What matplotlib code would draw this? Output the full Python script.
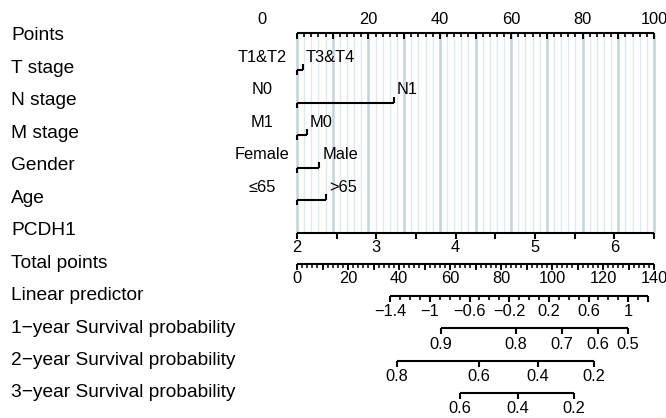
import matplotlib
matplotlib.use("Agg")
import matplotlib.pyplot as plt
import numpy as np

plt.rcParams['font.family'] = ['Liberation Sans', 'DejaVu Sans']

# row names, top to bottom
row_names = ["Points", "T stage", "N stage", "M stage", "Gender", "Age", "PCDH1",
             "Total points", "Linear predictor", "1\u2212year Survival probability",
             "2\u2212year Survival probability", "3\u2212year Survival probability"]

# categorical predictors: level names and points
cat_levels = [["T1&T2", "T3&T4"], ["N0", "N1"], ["M1", "M0"], ["Female", "Male"],
              ["\u226465", ">65"]]
cat_points = [[0, 1.6], [0, 27.2], [0, 2.7], [0, 6.3], [0, 8.2]]

# PCDH1 (continuous): 2 -> 0 points, 6.5 -> 100 points
pcdh1_min, pcdh1_max = 2.0, 6.5
pcdh1_ticks = [2, 2.5, 3, 3.5, 4, 4.5, 5, 5.5, 6, 6.5]
pcdh1_labels = [2, 3, 4, 5, 6]

# total points scale
total_max = 140
# linear predictor in total points: points = lp_zero + lp_slope * lp
lp_zero, lp_slope = 91.0, 38.9
lp_labels = [-1.4, -1.0, -0.6, -0.2, 0.2, 0.6, 1.0]
lp_range = (-1.4, 1.2)

# survival probabilities and their total-point positions
surv_values = [[0.9, 0.8, 0.7, 0.6, 0.5],
               [0.8, 0.6, 0.4, 0.2],
               [0.6, 0.4, 0.2]]
surv_total = [[56.5, 85.9, 103.9, 118.0, 129.8],
              [39.2, 71.4, 94.5, 116.5],
              [63.9, 86.7, 108.6]]

# layout (pixel units)
W, H = 666, 418
x0_px, x100_px = 297, 654
ppx = (x100_px - x0_px) / 100.0
row_y0, row_dy = 36, 32.45
row_y = [row_y0 + row_dy * i for i in range(len(row_names))]
LW = 1.5
FS_ROW = 13.8
FS_TICK = 11.8

fig = plt.figure(figsize=(W / 100, H / 100), dpi=100)
ax = fig.add_axes([0, 0, 1, 1])
ax.set_xlim(-x0_px / ppx, (W - x0_px) / ppx)
ax.set_ylim(H, 0)
ax.axis("off")


def tot(v):
    return np.asarray(v, dtype=float) * 100.0 / total_max


def fmt(v):
    s = ("%g" % v)
    return s.replace("-", "\u2212")


# grid lines
grid_top = row_y[0] - 3
grid_bot = row_y[6] + 2
ax.vlines(np.arange(0, 101, 2), grid_top, grid_bot, color="#e1e8ec", lw=1.0, zorder=0)
ax.vlines(np.arange(0, 101, 10), grid_top, grid_bot, color="#c6d4db", lw=1.8, zorder=0)

# row labels
for name, y in zip(row_names, row_y):
    ax.text(-x0_px / ppx + 11 / ppx, y, name, fontsize=FS_ROW, ha="left", va="center")

# points axis
yp = row_y[0] - 3
ax.plot([0, 100], [yp, yp], color="black", lw=LW, solid_capstyle="butt")
minor = np.arange(0, 101, 2)
ax.vlines(minor, yp, yp + 4, color="black", lw=1.2)
ax.vlines(np.arange(0, 101, 10), yp, yp + 6, color="black", lw=1.4)
for v in range(0, 101, 20):
    xl = v if v > 0 else -35 / ppx
    ax.text(xl, yp - 13, str(v), fontsize=FS_TICK, ha="center", va="center")

# categorical predictors
for i, (levels, pts) in enumerate(zip(cat_levels, cat_points)):
    y = row_y[i + 1] + 2
    ax.plot([pts[0], pts[1]], [y, y], color="black", lw=LW, solid_capstyle="butt")
    ax.vlines(pts[0], y, y + 5, color="black", lw=LW)
    ax.vlines(pts[1], y - 6, y, color="black", lw=LW)
    ax.text(-35 / ppx, y - 13, levels[0], fontsize=FS_TICK, ha="center", va="center")
    ax.text(pts[1] + 3 / ppx, y - 13, levels[1], fontsize=FS_TICK, ha="left", va="center")

# PCDH1
y = row_y[6] + 2
to_pts = lambda v: (np.asarray(v, dtype=float) - pcdh1_min) / (pcdh1_max - pcdh1_min) * 100
ax.plot([0, 100], [y, y], color="black", lw=LW, solid_capstyle="butt")
ax.vlines(to_pts(pcdh1_ticks), y, y + 6, color="black", lw=LW)
for v in pcdh1_labels:
    ax.text(to_pts(v), y + 15, str(v), fontsize=FS_TICK, ha="center", va="center")

# total points
y = row_y[7] + 1
ax.plot([0, 100], [y, y], color="black", lw=LW, solid_capstyle="butt")
ax.vlines(tot(np.arange(0, total_max + 1, 2)), y, y + 4, color="black", lw=1.1)
ax.vlines(tot(np.arange(0, total_max + 1, 10)), y, y + 6, color="black", lw=1.3)
for v in range(0, total_max + 1, 20):
    ax.text(tot(v), y + 14, str(v), fontsize=FS_TICK, ha="center", va="center")

# linear predictor
y = row_y[8]
lp_pts = lambda v: tot(lp_zero + lp_slope * np.asarray(v, dtype=float))
ax.plot(lp_pts(list(lp_range)), [y, y], color="black", lw=LW, solid_capstyle="butt")
lp_minor = np.round(np.arange(lp_range[0], lp_range[1] + 0.001, 0.1), 2)
ax.vlines(lp_pts(lp_minor), y, y + 4, color="black", lw=1.2)
ax.vlines(lp_pts(lp_labels + [lp_range[1]]), y, y + 6, color="black", lw=LW)
for v in lp_labels:
    ax.text(lp_pts(v), y + 16, fmt(v), fontsize=FS_TICK, ha="center", va="center")

# survival probabilities
for k, (vals, tp) in enumerate(zip(surv_values, surv_total)):
    y = row_y[9 + k]
    xs = tot(tp)
    ax.plot([xs[0], xs[-1]], [y, y], color="black", lw=LW, solid_capstyle="butt")
    ax.vlines(xs, y, y + 6, color="black", lw=LW)
    for v, xv in zip(vals, xs):
        ax.text(xv, y + 16, fmt(v), fontsize=FS_TICK, ha="center", va="center")

fig.savefig("out.png", dpi=100)
